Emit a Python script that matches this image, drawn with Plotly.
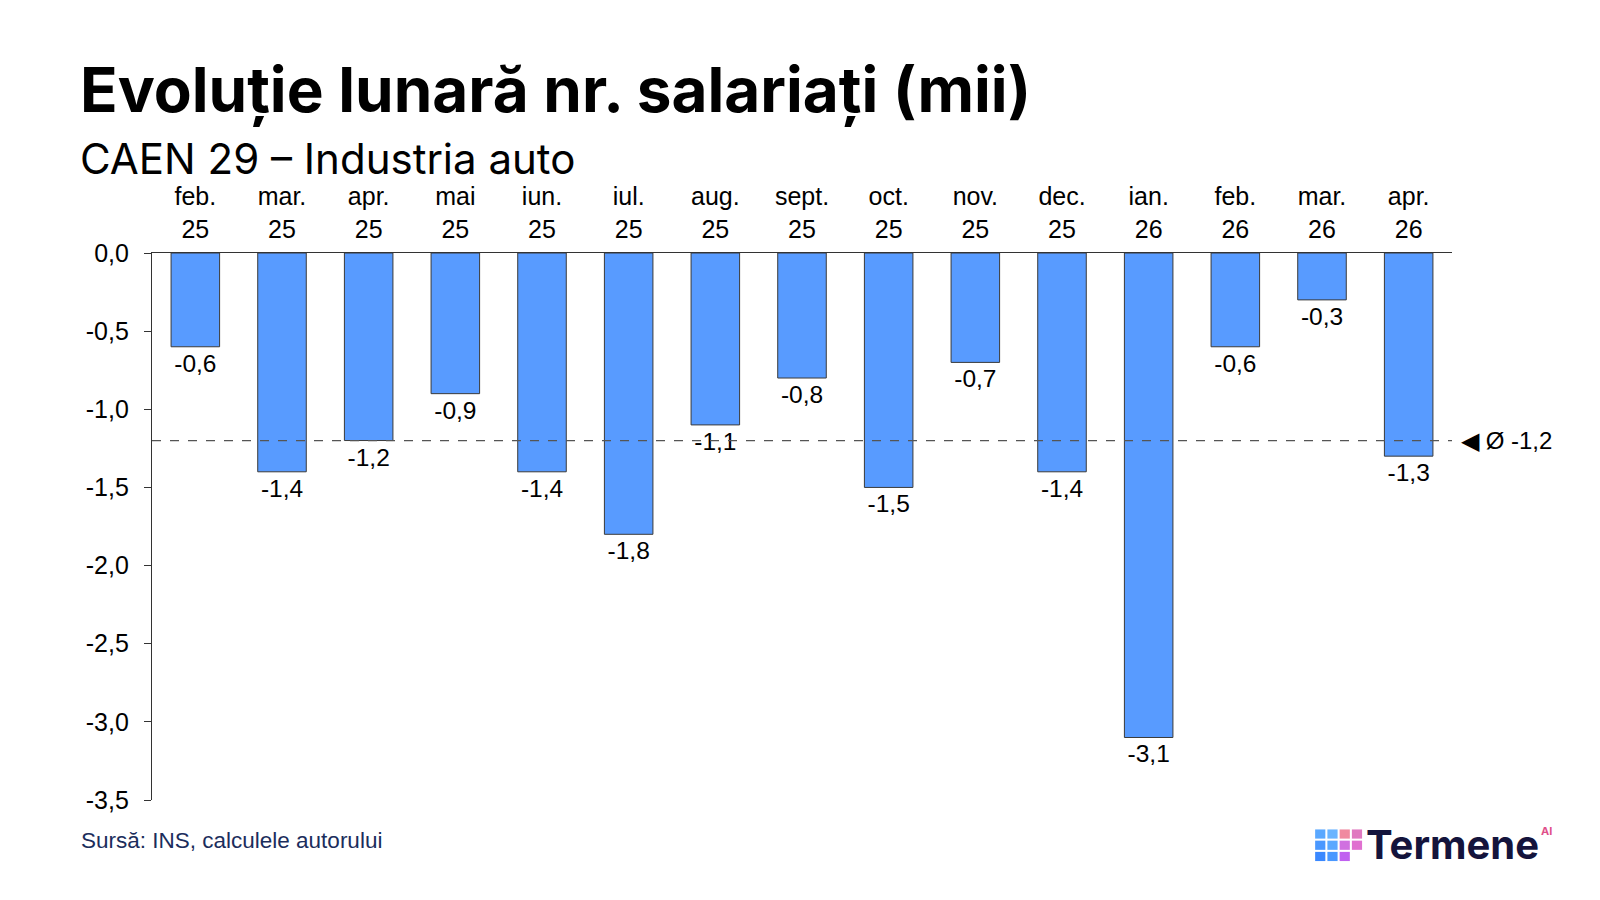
import plotly.graph_objects as go

luni = ["feb.<br>25", "mar.<br>25", "apr.<br>25", "mai<br>25", "iun.<br>25", "iul.<br>25",
        "aug.<br>25", "sept.<br>25", "oct.<br>25", "nov.<br>25", "dec.<br>25", "ian.<br>26",
        "feb.<br>26", "mar.<br>26", "apr.<br>26"]
variatie = [-0.6, -1.4, -1.2, -0.9, -1.4, -1.8, -1.1, -0.8, -1.5, -0.7, -1.4, -3.1, -0.6, -0.3, -1.3]
medie = -1.2
y_ticks = [0, -0.5, -1.0, -1.5, -2.0, -2.5, -3.0, -3.5]

def fmt(v):
    return f"{v:.1f}".replace(".", ",")

# marginile graficului (px in layout)
ML, MR, MT, MB = 144, 156, 245, 108
PW = 1600 - ML - MR
PH = 900 - MT - MB

def px(x):
    # pixel din captura -> coordonata paper
    return ((x - 8) / 0.98 - ML) / PW

def py(y):
    return (900 - MB - (y - 8) / 0.98) / PH

fig = go.Figure()
fig.add_trace(go.Bar(
    x=luni, y=variatie,
    marker=dict(color="#589BFF", line=dict(color="#3a3a3a", width=1)),
    width=0.56,
    text=[fmt(v) for v in variatie], textposition="outside",
    textfont=dict(family="Liberation Sans", size=24.5, color="#000"),
    cliponaxis=False,
))

# linia de medie
fig.add_shape(type="line", xref="paper", x0=0, x1=1, yref="y", y0=medie, y1=medie,
              line=dict(color="#555", width=1.3, dash="dash"))
fig.add_annotation(xref="paper", x=px(1430), yref="y", y=medie, xanchor="left", yanchor="middle",
                   text="◀ Ø " + fmt(medie), showarrow=False,
                   font=dict(family="Liberation Sans", size=24, color="#000"))

fig.update_layout(
    width=1600, height=900,
    paper_bgcolor="white", plot_bgcolor="white",
    margin=dict(l=ML, r=MR, t=MT, b=MB),
    showlegend=False,
    bargap=0.44,
    font=dict(family="Liberation Sans", color="#000"),
    xaxis=dict(side="top", showline=True, linecolor="#333", linewidth=1.2, ticks="",
               ticklabelstandoff=4,
               tickfont=dict(size=25, color="#000"), showgrid=False),
    yaxis=dict(range=[-3.5, 0], tickvals=y_ticks, ticktext=[fmt(v) for v in y_ticks],
               showline=True, linecolor="#333", linewidth=1.2, ticks="outside", ticklen=7,
               tickcolor="#333", showgrid=False, zeroline=False, ticklabelstandoff=10,
               tickfont=dict(size=25, color="#000")),
)

fig.add_annotation(xref="paper", yref="paper", x=px(77), y=py(88), xanchor="left", yanchor="middle",
                   text="<b>Evoluție lunară nr. salariați (mii)</b>", showarrow=False,
                   font=dict(family="Inter", size=62, color="#000"))
fig.add_annotation(xref="paper", yref="paper", x=px(77), y=py(155), xanchor="left", yanchor="middle",
                   text="CAEN 29 – Industria auto", showarrow=False,
                   font=dict(family="Inter", size=42, color="#000"))
fig.add_annotation(xref="paper", yref="paper", x=px(78), y=py(824), xanchor="left", yanchor="middle",
                   text="Sursă: INS, calculele autorului", showarrow=False,
                   font=dict(family="Liberation Sans", size=22.5, color="#1b2d5c"))

# logo Termene
fig.add_annotation(xref="paper", yref="paper", x=px(1510), y=py(828), xanchor="right", yanchor="middle",
                   text="<b>Termene</b>", showarrow=False,
                   font=dict(family="Inter", size=40, color="#14143c"))
fig.add_annotation(xref="paper", yref="paper", x=px(1516), y=py(815), xanchor="center", yanchor="middle",
                   text="<b>AI</b>", showarrow=False,
                   font=dict(family="Inter", size=11, color="#e0508a"))
culori = [["#5aa8ff", "#6ab4ff", "#f08aa0", "#e078c0"],
          ["#4a98ff", "#5aa8ff", "#d070e0", "#e070d0"],
          ["#3a88ff", "#4a98ff", "#c060f0", None]]
for i in range(3):
    for j in range(4):
        if culori[i][j] is None:
            continue
        x0 = 1289 + j * 12
        y0 = 813 + i * 11
        fig.add_shape(type="rect", xref="paper", yref="paper",
                      x0=px(x0), x1=px(x0 + 10), y0=py(y0), y1=py(y0 + 9),
                      fillcolor=culori[i][j], line=dict(width=0), layer="above")

fig.write_html("out.html")
